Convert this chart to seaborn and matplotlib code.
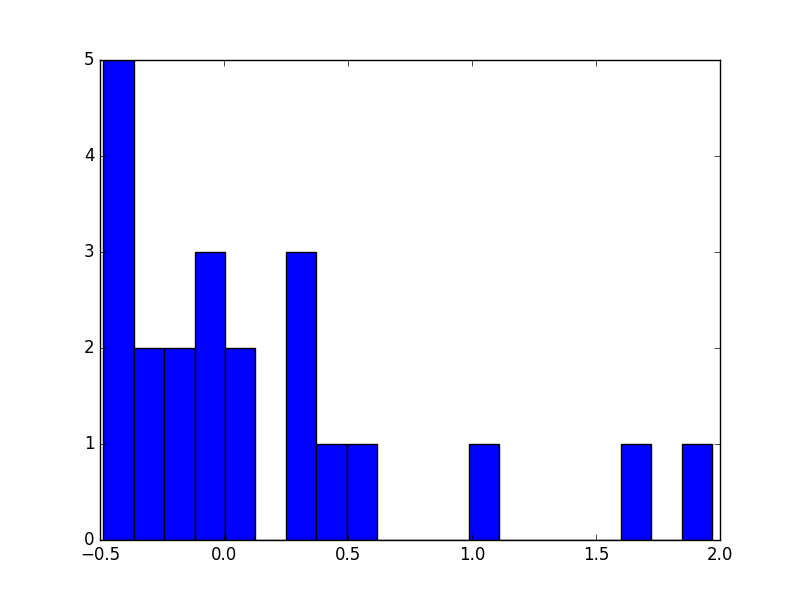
import numpy as np
import pandas as pd
import matplotlib
matplotlib.use("Agg")
import matplotlib.pyplot as plt
import seaborn as sns

# histogram: 20 equal bins between data min and max
data_min = -0.487
data_max = 1.969
counts = [5, 2, 2, 3, 2, 0, 3, 1, 1, 0, 0, 0, 1, 0, 0, 0, 0, 1, 0, 1]

edges = np.linspace(data_min, data_max, len(counts) + 1)
centers = (edges[:-1] + edges[1:]) / 2
df = pd.DataFrame({"value": centers, "n": counts})

plt.style.use("classic")
fig, ax = plt.subplots(figsize=(8, 6), dpi=100)
sns.histplot(data=df, x="value", weights="n", bins=list(edges), stat="count",
             color="#0000ff", alpha=1, edgecolor="black", linewidth=1, ax=ax)
ax.set_xlim(-0.5, 2.0)
ax.set_ylim(0, 5)
ax.set_xlabel("")
ax.set_ylabel("")
ax.set_xticks(np.arange(-0.5, 2.01, 0.5))
ax.set_yticks(range(0, 6))
fig.subplots_adjust(left=0.125, right=0.9, bottom=0.1, top=0.9)
fig.savefig("out.png", dpi=100, facecolor="white")
